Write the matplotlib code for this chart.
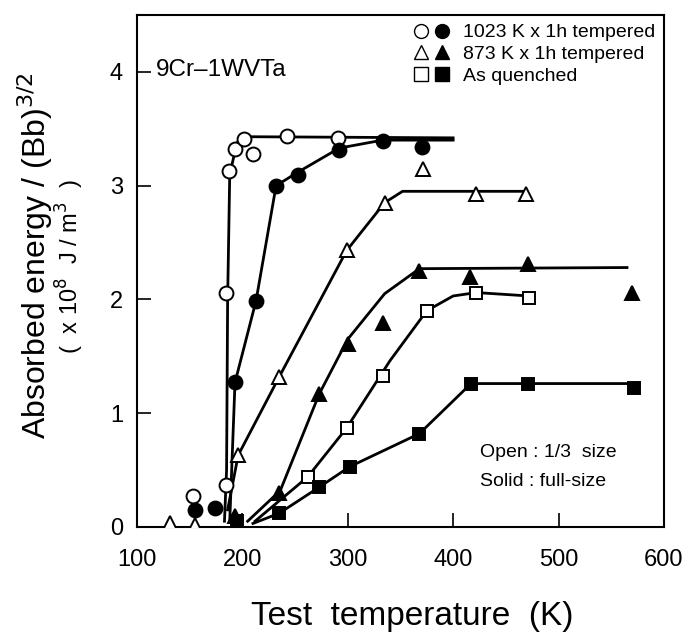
import matplotlib
matplotlib.use("Agg")
import matplotlib.pyplot as plt
from matplotlib.lines import Line2D
from matplotlib.legend_handler import HandlerTuple

plt.rcParams['font.family'] = ['Liberation Sans', 'DejaVu Sans']

# ---- data ----
oc_T = [153, 184, 184, 187, 193, 202, 210, 242, 291]
oc_E = [0.27, 0.37, 2.06, 3.13, 3.32, 3.41, 3.28, 3.44, 3.42]
sc_T = [155, 174, 193, 213, 232, 253, 292, 333, 370]
sc_E = [0.15, 0.17, 1.27, 1.99, 3.00, 3.09, 3.31, 3.39, 3.34]
ot_T = [131, 155, 196, 235, 299, 335, 371, 422, 469]
ot_E = [0.03, 0.02, 0.63, 1.32, 2.43, 2.85, 3.15, 2.93, 2.93]
st_T = [193, 235, 273, 300, 333, 368, 416, 471, 570]
st_E = [0.10, 0.30, 1.17, 1.61, 1.79, 2.25, 2.20, 2.31, 2.06]
os_T = [262, 299, 333, 375, 422, 472]
os_E = [0.44, 0.87, 1.33, 1.90, 2.06, 2.01]
ss_T = [195, 235, 273, 302, 368, 417, 471, 572]
ss_E = [0.05, 0.12, 0.35, 0.53, 0.82, 1.26, 1.26, 1.22]

# hand-drawn trend curves (nodes)
c_oc_T = [183, 185, 186, 188, 195, 205, 400]
c_oc_E = [0.05, 0.5, 2.0, 3.1, 3.38, 3.43, 3.42]
c_sc_T = [188, 193, 213, 232, 253, 292, 333, 400]
c_sc_E = [0.05, 1.27, 1.99, 3.00, 3.12, 3.33, 3.40, 3.40]
c_ot_T = [186, 196, 235, 299, 335, 352, 470]
c_ot_E = [0.15, 0.63, 1.32, 2.43, 2.85, 2.95, 2.95]
c_st_T = [205, 236, 273, 300, 335, 368, 565]
c_st_E = [0.05, 0.32, 1.17, 1.65, 2.05, 2.27, 2.28]
c_os_T = [212, 262, 299, 340, 375, 400, 422, 472]
c_os_E = [0.05, 0.44, 0.87, 1.46, 1.90, 2.03, 2.06, 2.03]
c_ss_T = [210, 235, 273, 302, 368, 417, 572]
c_ss_E = [0.03, 0.12, 0.35, 0.53, 0.82, 1.26, 1.26]

x_ticks = [100, 200, 300, 400, 500, 600]
y_ticks = [0, 1, 2, 3, 4]
legend_labels = ['1023 K x 1h tempered', '873 K x 1h tempered', 'As quenched']

fig = plt.figure(figsize=(6.83, 6.41), dpi=100)
ax = fig.add_axes([0.2006, 0.178, 0.7714, 0.7986])

lw = 2.0
for T, E in [(c_oc_T, c_oc_E), (c_sc_T, c_sc_E), (c_ot_T, c_ot_E),
             (c_st_T, c_st_E), (c_os_T, c_os_E), (c_ss_T, c_ss_E)]:
    ax.plot(T, E, color='black', lw=lw, zorder=1)

ms = 10
mew = 1.4
ax.plot(oc_T, oc_E, 'o', ms=ms, mfc='white', mec='black', mew=mew, zorder=3)
ax.plot(sc_T, sc_E, 'o', ms=ms, mfc='black', mec='black', mew=mew, zorder=3)
ax.plot(ot_T, ot_E, '^', ms=ms, mfc='white', mec='black', mew=mew, zorder=3)
ax.plot(st_T, st_E, '^', ms=ms, mfc='black', mec='black', mew=mew, zorder=3)
ax.plot(os_T, os_E, 's', ms=ms - 1, mfc='white', mec='black', mew=mew, zorder=3)
ax.plot(ss_T, ss_E, 's', ms=ms - 1, mfc='black', mec='black', mew=mew, zorder=3)

ax.set_xlim(100, 600)
ax.set_ylim(0, 4.5)
ax.set_xticks(x_ticks)
ax.set_yticks(y_ticks)
ax.tick_params(direction='in', length=10, width=1.2, labelsize=17)
ax.tick_params(axis='x', pad=16)
ax.tick_params(axis='y', pad=10)
for s in ax.spines.values():
    s.set_linewidth(1.5)

fig.text(412 / 683, 1 - 617 / 641, 'Test  temperature  (K)', fontsize=24,
         ha='center', va='center')
fig.text(35 / 683, 1 - 256 / 641, 'Absorbed energy / (Bb)$^{3/2}$', rotation=90,
         fontsize=23, ha='center', va='center')
fig.text(70 / 683, 1 - 267 / 641, '(  x 10$^8$  J / m$^3$  )', rotation=90,
         fontsize=17, ha='center', va='center')

ax.text(0.035, 0.893, '9Cr\u20131WVTa', transform=ax.transAxes, fontsize=17.5,
        va='center', ha='left')

kw = dict(ls='none', ms=10, mec='black', mew=1.0)
h = [
    (Line2D([], [], marker='o', mfc='white', **kw), Line2D([], [], marker='o', mfc='black', **kw)),
    (Line2D([], [], marker='^', mfc='white', **kw), Line2D([], [], marker='^', mfc='black', **kw)),
    (Line2D([], [], marker='s', mfc='white', **kw), Line2D([], [], marker='s', mfc='black', **kw)),
]
ax.legend(h, legend_labels, handler_map={tuple: HandlerTuple(ndivide=None, pad=0.15)},
          loc='upper right', frameon=False, fontsize=14, handlelength=2.0,
          handletextpad=0.6, labelspacing=0.22, borderaxespad=0.1, borderpad=0.35)

ax.text(0.651, 0.1445, 'Open : 1/3  size', transform=ax.transAxes, fontsize=14,
        va='center')
ax.text(0.651, 0.088, 'Solid : full-size', transform=ax.transAxes, fontsize=14,
        va='center')

fig.savefig('out.png', dpi=100)
